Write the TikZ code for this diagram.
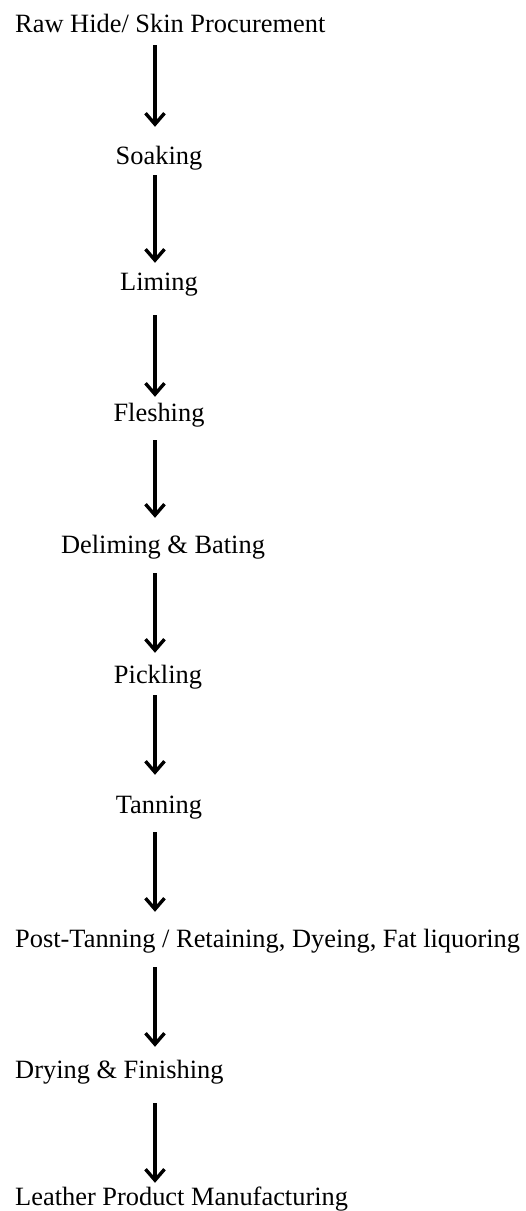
\documentclass[tikz,border=0pt]{standalone}
\usepackage{fontspec}
\setmainfont{Liberation Serif}
\usetikzlibrary{arrows.meta,positioning}
\tikzset{
    stepname/.style={
        inner sep=0pt,
        text height=18pt,
        text depth=6pt,
        text=black,
        font=\fontsize{26.4}{30}\selectfont
    },
    flowarrow/.style={
        -{Straight Barb[length=11pt,width=19pt,line width=3.4pt]},
        draw=black,
        line width=3.4pt
    }
}
\begin{document}
\begin{tikzpicture}[x=1pt,y=-1pt]
        \useasboundingbox (0,0) rectangle (526,1211);
        \coordinate (spine) at (155,0);

        \node[stepname,anchor=base west] (raw) at (15,32) {Raw Hide/ Skin Procurement};
        \node[stepname,anchor=base] (soak) at (159,164) {Soaking};
        \node[stepname,anchor=base] (lime) at (159,290) {Liming};
        \node[stepname,anchor=base] (flesh) at (159,421) {Fleshing};
        \node[stepname,anchor=base] (delime) at (163,553) {Deliming \& Bating};
        \node[stepname,anchor=base] (pickle) at (158,683) {Pickling};
        \node[stepname,anchor=base] (tan) at (159,813) {Tanning};
        \node[stepname,anchor=base west] (posttan) at (15,947) {Post-Tanning / Retaining, Dyeing, Fat liquoring};
        \node[stepname,anchor=base west] (dry) at (15,1078) {Drying \& Finishing};
        \node[stepname,anchor=base west] (product) at (15,1205) {Leather Product Manufacturing};

        \foreach \from/\to/\gapa/\gapb in {raw/soak/7/19, soak/lime/5/9, lime/flesh/19/6,
            flesh/delime/13/17, delime/pickle/14/12, pickle/tan/6/20,
            tan/posttan/13/17, posttan/dry/14/13, dry/product/19/4}
            \draw[flowarrow,shorten <=\gapa pt,shorten >=\gapb pt]
                (\from.south -| spine) -- (\to.north -| spine);
    \end{tikzpicture}
\end{document}
